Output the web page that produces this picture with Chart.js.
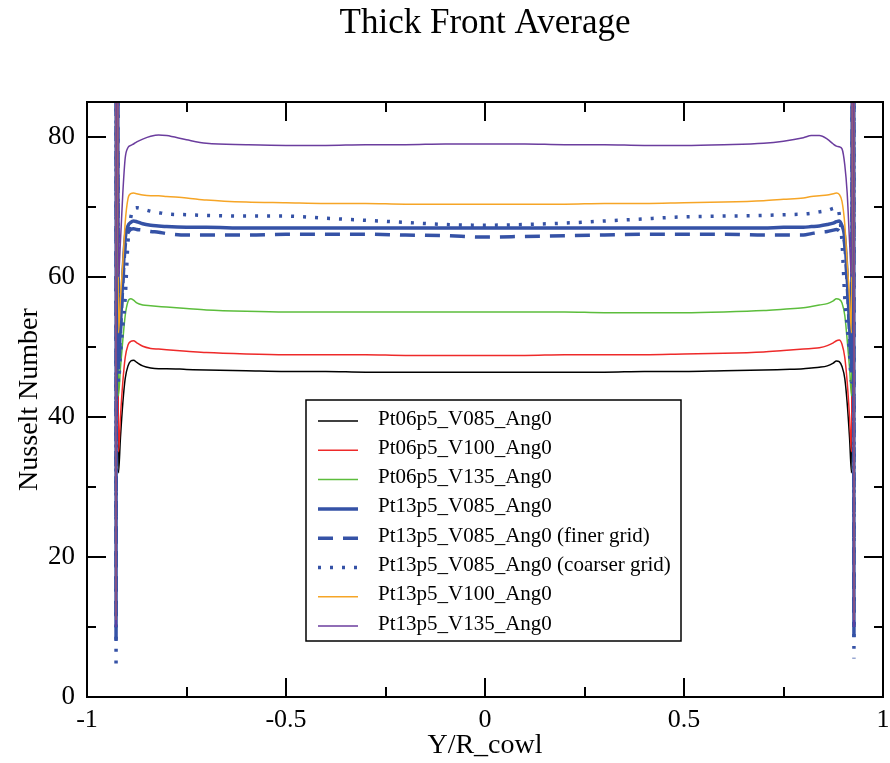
<!DOCTYPE html>
<html>
<head>
<meta charset="utf-8">
<script src="https://cdn.jsdelivr.net/npm/chart.js@4"></script>
<style>
html,body{margin:0;padding:0;background:#fff;}
#wrap{width:890px;height:763px;position:relative;}
</style>
</head>
<body>
<div id="wrap"><canvas id="c" width="890" height="763"></canvas></div>
<script>
const TITLE = 'Thick Front Average';
const X_LABEL = 'Y/R_cowl';
const Y_LABEL = 'Nusselt Number';
const X_MAJOR = [-1, -0.5, 0, 0.5, 1];
const X_MINOR = [-0.75, -0.25, 0.25, 0.75];
const Y_MAJOR = [0, 20, 40, 60, 80];
const Y_MINOR = [10, 30, 50, 70];

const X = [-0.927, -0.926, -0.921, -0.916, -0.91, -0.904, -0.897, -0.89, -0.883, -0.875,
  -0.86, -0.84, -0.82, -0.8, -0.75, -0.7, -0.6, -0.5, -0.4, -0.3, -0.2, -0.1, 0,
  0.1, 0.2, 0.3, 0.4, 0.5, 0.6, 0.7, 0.75, 0.8, 0.82, 0.84, 0.86, 0.875, 0.883, 0.89,
  0.897, 0.904, 0.91, 0.916, 0.921, 0.926, 0.927];

const NAMES = ['Pt06p5_V085_Ang0', 'Pt06p5_V100_Ang0', 'Pt06p5_V135_Ang0', 'Pt13p5_V085_Ang0',
  'Pt13p5_V085_Ang0 (finer grid)', 'Pt13p5_V085_Ang0 (coarser grid)', 'Pt13p5_V100_Ang0', 'Pt13p5_V135_Ang0'];

const pt06_v085 = [10.5, 200, 32, 37, 42, 45.5, 47.3, 48.0, 48.1, 47.8, 47.3, 47.0, 46.9, 46.9, 46.8, 46.7, 46.6, 46.5, 46.5, 46.4, 46.4, 46.4, 46.4, 46.4, 46.4, 46.4, 46.5, 46.5, 46.6, 46.7, 46.8, 46.9, 47.0, 47.1, 47.3, 47.7, 48.0, 47.9, 47.2, 45.5, 42, 37, 32, 200, 10.5];
const pt06_v100 = [10, 200, 35, 40, 45, 48.5, 50.3, 50.8, 50.9, 50.6, 50.1, 49.8, 49.7, 49.6, 49.4, 49.2, 49.0, 48.9, 48.9, 48.9, 48.8, 48.8, 48.8, 48.8, 48.9, 48.9, 48.9, 49.0, 49.1, 49.3, 49.5, 49.7, 49.8, 49.9, 50.2, 50.6, 50.9, 51.0, 50.4, 48.5, 45, 40, 35, 200, 10];
const pt06_v135 = [10.5, 200, 43, 47, 51, 54.5, 56.5, 56.9, 56.7, 56.3, 56.0, 55.9, 55.8, 55.7, 55.5, 55.3, 55.1, 55.0, 55.0, 55.0, 55.0, 55.0, 55.0, 55.0, 55.0, 54.9, 54.9, 54.9, 55.0, 55.2, 55.4, 55.6, 55.8, 56.0, 56.2, 56.6, 56.9, 56.8, 56.3, 54.5, 51, 47, 43, 200, 10.5];
const pt13_v085 = [10, 200, 48, 53, 60, 65.5, 67.3, 67.8, 68.0, 67.9, 67.6, 67.4, 67.3, 67.2, 67.1, 67.1, 67.0, 67.0, 67.0, 67.0, 67.0, 67.0, 67.0, 67.0, 67.0, 67.0, 67.0, 67.0, 67.0, 67.0, 67.1, 67.1, 67.2, 67.3, 67.5, 67.7, 67.9, 68.0, 67.3, 65.5, 60, 53, 48, 200, 10];
const pt13_v085_fine = [8, 200, 47, 52, 59, 64.5, 66.3, 66.8, 66.9, 66.8, 66.7, 66.5, 66.4, 66.2, 66.0, 66.0, 66.0, 66.1, 66.1, 66.1, 66.0, 65.9, 65.7, 65.8, 65.9, 66.0, 66.1, 66.1, 66.1, 66.0, 66.0, 66.0, 66.2, 66.4, 66.5, 66.7, 66.8, 66.6, 66.0, 64.5, 59, 52, 47, 200, 8];
const pt13_v085_coarse = [4.8, 200, 45, 49, 53, 57, 65, 68.5, 69.7, 69.9, 69.7, 69.4, 69.2, 69.0, 68.9, 68.8, 68.7, 68.7, 68.4, 68.1, 67.8, 67.5, 67.4, 67.5, 67.7, 68.0, 68.3, 68.6, 68.7, 68.8, 68.9, 69.0, 69.1, 69.3, 69.5, 69.8, 69.9, 69.0, 65, 57, 53, 49, 45, 200, 5.5];
const pt13_v100 = [11, 200, 52, 57, 62, 67.8, 71.2, 71.9, 72.0, 71.9, 71.7, 71.6, 71.6, 71.5, 71.3, 71.0, 70.7, 70.6, 70.5, 70.5, 70.4, 70.4, 70.4, 70.4, 70.4, 70.5, 70.5, 70.6, 70.7, 70.9, 71.1, 71.3, 71.5, 71.6, 71.7, 71.9, 72.0, 71.8, 70.8, 67.5, 62, 57, 52, 200, 11];
const pt13_v135 = [10, 200, 60, 65, 72, 77, 78.5, 78.8, 79.0, 79.3, 79.7, 80.1, 80.3, 80.2, 79.6, 79.1, 78.9, 78.8, 78.8, 78.9, 78.9, 79.0, 79.0, 79.0, 78.9, 78.9, 78.8, 78.8, 78.9, 79.1, 79.4, 79.9, 80.2, 80.2, 79.7, 79.0, 78.7, 78.6, 78.3, 76, 72, 65, 60, 200, 10];

const SERIES = [pt06_v085, pt06_v100, pt06_v135, pt13_v085, pt13_v085_fine, pt13_v085_coarse, pt13_v100, pt13_v135];
const COLORS = ['#000000', '#ee2a2a', '#5cbd3c', '#3552a6', '#3552a6', '#3552a6', '#f6a526', '#6b3d9e'];
const WIDTHS = [1.5, 1.5, 1.5, 3.5, 3.5, 3.5, 1.5, 1.5];
const DASHES = [[], [], [], [], [15, 10], [3, 9], [], []];

const FONT = "'Liberation Serif', 'Times New Roman', serif";

const datasets = SERIES.map((vals, i) => ({
  label: NAMES[i],
  data: X.map((x, j) => ({x: x, y: vals[j]})),
  borderColor: COLORS[i],
  backgroundColor: COLORS[i],
  borderWidth: WIDTHS[i],
  borderDash: DASHES[i],
  borderCapStyle: 'butt',
  pointRadius: 0,
  fill: false,
  cubicInterpolationMode: 'monotone',
  clip: 0,
  order: -i
}));

const framePlugin = {
  id: 'frame',
  afterDraw(chart) {
    const ctx = chart.ctx;
    const {left, right, top, bottom} = chart.chartArea;
    const xs = chart.scales.x, ys = chart.scales.y;
    ctx.save();
    ctx.strokeStyle = '#000';
    ctx.lineWidth = 2;
    ctx.strokeRect(left, top, right - left, bottom - top);
    ctx.beginPath();
    const tick = (vals, len, horiz) => {
      vals.forEach(v => {
        if (horiz) {
          const p = Math.round(xs.getPixelForValue(v));
          ctx.moveTo(p, bottom); ctx.lineTo(p, bottom - len);
          ctx.moveTo(p, top); ctx.lineTo(p, top + len);
        } else {
          const p = Math.round(ys.getPixelForValue(v));
          ctx.moveTo(left, p); ctx.lineTo(left + len, p);
          ctx.moveTo(right, p); ctx.lineTo(right - len, p);
        }
      });
    };
    tick(X_MAJOR, 19, true);
    tick(X_MINOR, 10, true);
    tick(Y_MAJOR, 19, false);
    tick(Y_MINOR, 9, false);
    ctx.stroke();

    // title
    ctx.fillStyle = '#000';
    ctx.font = '35px ' + FONT;
    ctx.textAlign = 'center';
    ctx.textBaseline = 'middle';
    ctx.fillText(TITLE, (left + right) / 2, 24);

    // legend
    const bx = 306, by = 400, bw = 375, bh = 241;
    ctx.fillStyle = '#fff';
    ctx.fillRect(bx, by, bw, bh);
    ctx.lineWidth = 1.5;
    ctx.strokeStyle = '#000';
    ctx.strokeRect(bx, by, bw, bh);
    ctx.font = '21px ' + FONT;
    ctx.textAlign = 'left';
    chart.data.datasets.forEach((ds, i) => {
      const y = 421 + i * 29.3;
      ctx.save();
      ctx.strokeStyle = ds.borderColor;
      ctx.lineWidth = ds.borderWidth;
      ctx.setLineDash(ds.borderDash);
      ctx.lineCap = 'butt';
      ctx.beginPath();
      ctx.moveTo(318, y); ctx.lineTo(358, y);
      ctx.stroke();
      ctx.restore();
      ctx.fillStyle = '#000';
      ctx.fillText(ds.label, 378, y - 2);
    });
    ctx.restore();
  }
};

new Chart(document.getElementById('c'), {
  type: 'line',
  data: {datasets: datasets},
  options: {
    responsive: false,
    animation: false,
    events: [],
    layout: {padding: {top: 102, right: 7, bottom: 0, left: 0}},
    plugins: {legend: {display: false}, title: {display: false}, tooltip: {enabled: false}},
    scales: {
      x: {
        type: 'linear', min: -1, max: 1,
        grid: {display: false, drawTicks: false}, border: {display: false},
        afterBuildTicks: s => { s.ticks = X_MAJOR.map(v => ({value: v})); },
        afterFit: s => { s.height = 66; s.paddingLeft = 0; s.paddingRight = 0; },
        ticks: {color: '#000', font: {family: FONT, size: 26}, padding: 8, maxRotation: 0,
                callback: v => String(v)},
        title: {display: true, text: X_LABEL, color: '#000', font: {family: FONT, size: 28}, padding: {top: 0, bottom: 1}}
      },
      y: {
        type: 'linear', min: 0, max: 85,
        grid: {display: false, drawTicks: false}, border: {display: false},
        afterBuildTicks: s => { s.ticks = Y_MAJOR.map(v => ({value: v})); },
        afterFit: s => { s.width = 87; s.paddingTop = 0; s.paddingBottom = 0; },
        ticks: {color: '#000', font: {family: FONT, size: 27}, padding: 12, callback: v => String(v)},
        title: {display: true, text: Y_LABEL, color: '#000', font: {family: FONT, size: 28}, padding: {top: 13, bottom: 0}}
      }
    }
  },
  plugins: [framePlugin]
});
</script>
</body>
</html>
